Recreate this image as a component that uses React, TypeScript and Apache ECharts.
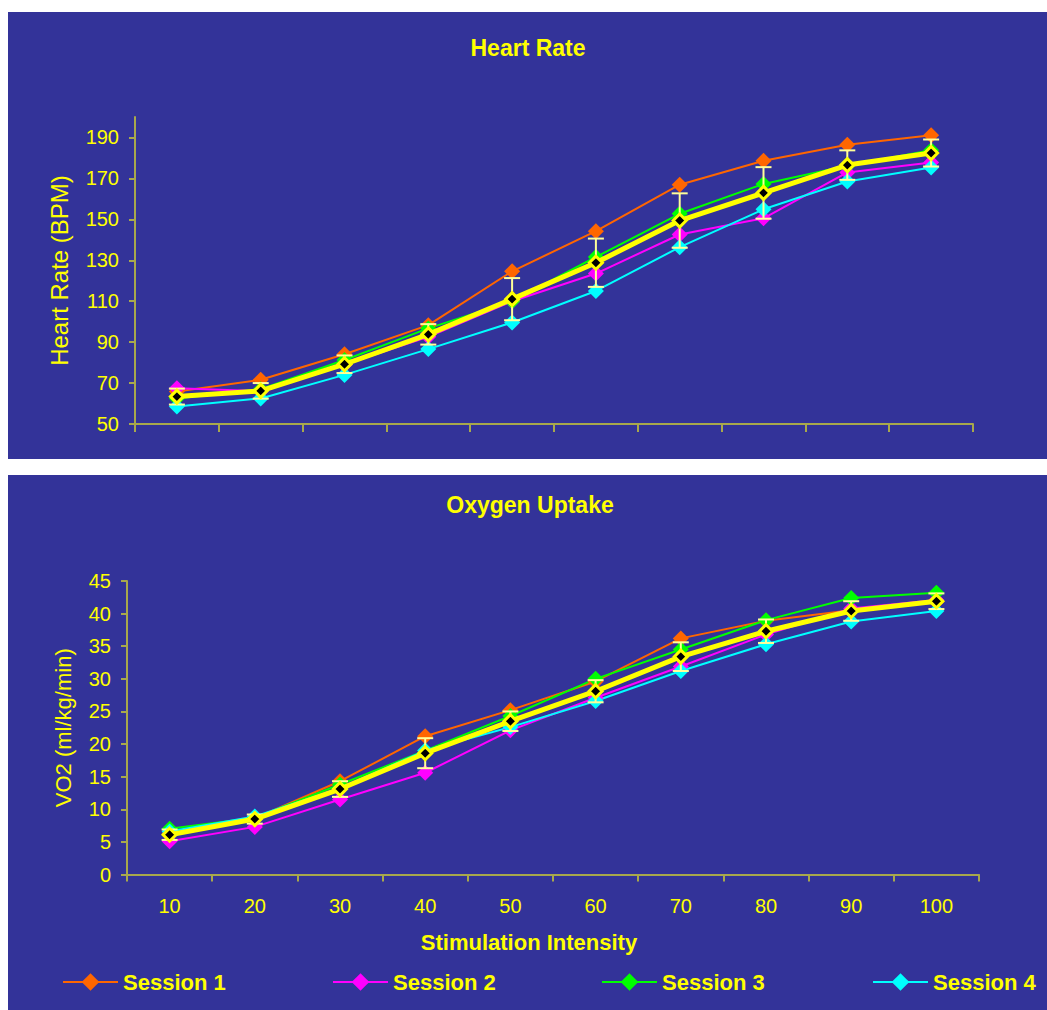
import React, { useEffect, useRef } from "react";
import * as echarts from "echarts";

const categories = ["10", "20", "30", "40", "50", "60", "70", "80", "90", "100"];

// Heart rate (BPM)
const hrSession1 = [65.9, 71.6, 84.1, 98.3, 124.6, 144.2, 166.9, 178.6, 186.4, 191.1];
const hrSession2 = [67.5, 66.0, 79.0, 92.6, 110.0, 123.5, 142.6, 150.5, 172.9, 177.8];
const hrSession3 = [62.5, 67.0, 81.3, 96.7, 110.0, 131.6, 152.7, 167.3, 176.2, 183.8];
const hrSession4 = [58.6, 62.5, 74.0, 86.6, 99.6, 115.0, 136.4, 154.9, 168.5, 175.3];
const hrMean = [63.4, 66.2, 79.2, 93.8, 111.0, 128.8, 149.4, 162.9, 176.5, 182.4];
const hrSD = [3.9, 3.8, 4.3, 5.0, 10.3, 11.8, 13.3, 12.6, 7.2, 6.6];
const hrTicks = [50, 70, 90, 110, 130, 150, 170, 190];

// VO2 (ml/kg/min)
const voSession1 = [6.3, 8.6, 14.3, 21.2, 25.2, 29.6, 36.2, 38.9, 40.5, 41.8];
const voSession2 = [5.1, 7.3, 11.5, 15.6, 22.1, 27.1, 31.9, 36.8, 40.8, 42.1];
const voSession3 = [7.0, 8.7, 13.8, 19.0, 24.3, 30.0, 34.5, 39.0, 42.4, 43.2];
const voSession4 = [6.6, 8.9, 13.2, 19.0, 22.6, 26.6, 31.2, 35.3, 38.8, 40.4];
const voMean = [6.1, 8.5, 13.1, 18.6, 23.5, 28.1, 33.4, 37.3, 40.4, 41.9];
const voSD = [0.8, 0.7, 1.2, 2.3, 1.5, 1.7, 2.2, 1.8, 1.5, 1.2];

const sessionNames = ["Session 1", "Session 2", "Session 3", "Session 4"];
const sessionColors = ["#FF6600", "#FF00FF", "#00FF00", "#00FFFF"];

const FONT = "'Liberation Sans', Arial, Helvetica, sans-serif";
const YELLOW = "#FFFF00";
const AXIS = "#A8A84C";
const BG = "#333399";

export default function App() {
  const ref = useRef<HTMLDivElement>(null);

  useEffect(() => {
    if (!ref.current) return;
    const chart = echarts.init(ref.current, undefined, { renderer: "svg" });

    const hrSessions = [hrSession1, hrSession2, hrSession3, hrSession4];
    const voSessions = [voSession1, voSession2, voSession3, voSession4];

    const sessionSeries = (data: number[][], gi: number) =>
      data.map((d, i) => ({
        type: "line",
        name: sessionNames[i],
        xAxisIndex: gi,
        yAxisIndex: gi,
        data: d,
        symbol: "diamond",
        symbolSize: 16,
        lineStyle: { color: sessionColors[i], width: 2 },
        itemStyle: { color: sessionColors[i] },
        z: 2,
      }));

    const errData = (mean: number[], sd: number[]) =>
      mean.map((m, i) => [i, m - sd[i], m + sd[i]]);

    const errSeries = (mean: number[], sd: number[], gi: number) => ({
      type: "custom",
      name: "SD",
      xAxisIndex: gi,
      yAxisIndex: gi,
      data: errData(mean, sd),
      encode: { x: 0, y: [1, 2] },
      z: 3,
      renderItem: (params: any, api: any) => {
        const idx = api.value(0);
        const lo = api.coord([idx, api.value(1)]);
        const hi = api.coord([idx, api.value(2)]);
        const half = 8;
        const st = { stroke: "#FFFF99", lineWidth: 2 };
        return {
          type: "group",
          children: [
            { type: "line", shape: { x1: lo[0], y1: lo[1], x2: hi[0], y2: hi[1] }, style: st },
            { type: "line", shape: { x1: hi[0] - half, y1: hi[1], x2: hi[0] + half, y2: hi[1] }, style: st },
            { type: "line", shape: { x1: lo[0] - half, y1: lo[1], x2: lo[0] + half, y2: lo[1] }, style: st },
          ],
        };
      },
    });

    const meanSeries = (mean: number[], gi: number) => ({
      type: "line",
      name: "Mean",
      xAxisIndex: gi,
      yAxisIndex: gi,
      data: mean,
      symbol: "diamond",
      symbolSize: 13,
      lineStyle: { color: YELLOW, width: 5 },
      itemStyle: { color: "#000000", borderColor: YELLOW, borderWidth: 3 },
      z: 4,
    });

    const tickLabel = { color: YELLOW, fontSize: 20, fontFamily: FONT };

    const legends = sessionNames.map((n, i) => ({
      data: [n],
      left: [62, 332, 601, 872][i],
      top: 971,
      padding: 0,
      itemWidth: 55,
      itemHeight: 22,
      selectedMode: false,
      textStyle: { color: YELLOW, fontSize: 22, fontWeight: "bold", fontFamily: FONT },
    }));

    chart.setOption({
      animation: false,
      backgroundColor: "#ffffff",
      title: [
        {
          text: "Heart Rate",
          left: 528,
          top: 36,
          textAlign: "center",
          padding: 0,
          textStyle: { color: YELLOW, fontSize: 23, fontWeight: "bold", fontFamily: FONT },
        },
        {
          text: "Oxygen Uptake",
          left: 530,
          top: 493,
          textAlign: "center",
          padding: 0,
          textStyle: { color: YELLOW, fontSize: 23, fontWeight: "bold", fontFamily: FONT },
        },
      ],
      graphic: [
        { type: "rect", z: -10, silent: true, shape: { x: 8, y: 12, width: 1039, height: 447 }, style: { fill: BG } },
        { type: "rect", z: -10, silent: true, shape: { x: 8, y: 475, width: 1039, height: 535 }, style: { fill: BG } },
        {
          type: "text",
          x: 529,
          y: 942,
          style: {
            text: "Stimulation Intensity",
            align: "center",
            verticalAlign: "middle",
            fill: YELLOW,
            font: `bold 22px ${FONT}`,
          },
        },
      ],
      legend: legends,
      grid: [
        { left: 135, top: 117, width: 838, height: 307, containLabel: false },
        { left: 127, top: 581, width: 852, height: 293.5, containLabel: false },
      ],
      xAxis: [
        {
          type: "category",
          gridIndex: 0,
          data: categories,
          boundaryGap: true,
          axisLine: { lineStyle: { color: AXIS, width: 2 } },
          axisTick: { show: true, length: 8, lineStyle: { color: AXIS, width: 2 } },
          axisLabel: { show: false },
          splitLine: { show: false },
        },
        {
          type: "category",
          gridIndex: 1,
          data: categories,
          boundaryGap: true,
          axisLine: { lineStyle: { color: AXIS, width: 2 } },
          axisTick: { show: true, length: 7, lineStyle: { color: AXIS, width: 2 } },
          axisLabel: { ...tickLabel, interval: 0, margin: 21 },
          splitLine: { show: false },
        },
      ],
      yAxis: [
        {
          type: "value",
          gridIndex: 0,
          min: 50,
          max: 200,
          name: "Heart Rate (BPM)",
          nameLocation: "middle",
          nameGap: 64,
          nameTextStyle: { color: YELLOW, fontSize: 24, fontFamily: FONT },
          axisLine: { show: true, lineStyle: { color: AXIS, width: 2 } },
          axisTick: { show: true, length: 6, customValues: hrTicks, lineStyle: { color: AXIS, width: 2 } },
          axisLabel: { ...tickLabel, margin: 16, customValues: hrTicks },
          splitLine: { show: false },
        },
        {
          type: "value",
          gridIndex: 1,
          min: 0,
          max: 45,
          interval: 5,
          name: "VO2 (ml/kg/min)",
          nameLocation: "middle",
          nameGap: 53,
          nameTextStyle: { color: YELLOW, fontSize: 22, fontFamily: FONT },
          axisLine: { show: true, lineStyle: { color: AXIS, width: 2 } },
          axisTick: { show: true, length: 6, lineStyle: { color: AXIS, width: 2 } },
          axisLabel: { ...tickLabel, margin: 16 },
          splitLine: { show: false },
        },
      ],
      series: [
        ...sessionSeries(hrSessions, 0),
        errSeries(hrMean, hrSD, 0),
        meanSeries(hrMean, 0),
        ...sessionSeries(voSessions, 1),
        errSeries(voMean, voSD, 1),
        meanSeries(voMean, 1),
      ],
    });

    return () => chart.dispose();
  }, []);

  return (
    <div
      ref={ref}
      style={{ position: "absolute", left: 0, top: 0, width: 1047, height: 1010 }}
    />
  );
}
